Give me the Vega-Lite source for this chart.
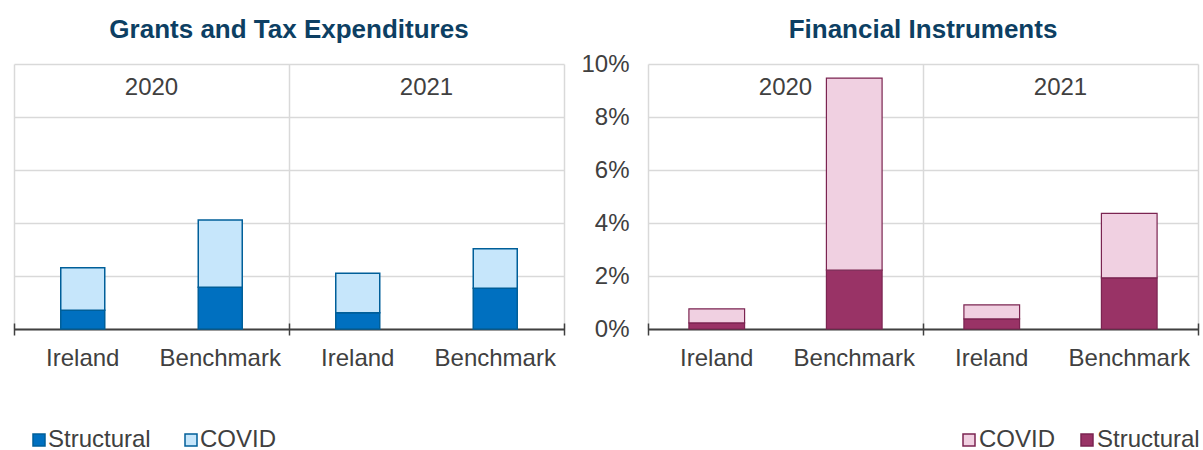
{
  "$schema": "https://vega.github.io/schema/vega-lite/v6.json",
  "padding": {"left": 13, "top": 17, "right": 0, "bottom": 0},
  "config": {
    "font": "Liberation Sans",
    "view": {"stroke": null},
    "text": {"font": "Liberation Sans"}
  },
  "datasets": {
    "gte": [
      {"slot": "2020 Ireland", "type": "Structural", "value": 0.71},
      {"slot": "2020 Ireland", "type": "COVID", "value": 1.60},
      {"slot": "2020 Benchmark", "type": "Structural", "value": 1.58},
      {"slot": "2020 Benchmark", "type": "COVID", "value": 2.53},
      {"slot": "2021 Ireland", "type": "Structural", "value": 0.61},
      {"slot": "2021 Ireland", "type": "COVID", "value": 1.49},
      {"slot": "2021 Benchmark", "type": "Structural", "value": 1.54},
      {"slot": "2021 Benchmark", "type": "COVID", "value": 1.49}
    ],
    "fi": [
      {"slot": "2020 Ireland", "type": "Structural", "value": 0.23},
      {"slot": "2020 Ireland", "type": "COVID", "value": 0.53},
      {"slot": "2020 Benchmark", "type": "Structural", "value": 2.22},
      {"slot": "2020 Benchmark", "type": "COVID", "value": 7.25},
      {"slot": "2021 Ireland", "type": "Structural", "value": 0.38},
      {"slot": "2021 Ireland", "type": "COVID", "value": 0.53},
      {"slot": "2021 Benchmark", "type": "Structural", "value": 1.93},
      {"slot": "2021 Benchmark", "type": "COVID", "value": 2.43}
    ],
    "years": [
      {"year": 2020, "label": "2020"},
      {"year": 2021, "label": "2021"}
    ]
  },
  "spacing": 15,
  "hconcat": [
    {
      "title": {"text": "Grants and Tax Expenditures", "fontSize": 26, "fontWeight": "bold", "color": "#0D3F63", "anchor": "middle", "baseline": "alphabetic", "offset": 0},
      "width": 550,
      "height": 265,
      "layer": [
        {
          "data": {"name": "gte"},
          "mark": {"type": "bar", "width": {"band": 0.32}, "stroke": "#005F99", "strokeWidth": 1.5},
          "encoding": {
            "x": {"field": "slot", "type": "nominal", "sort": null,
              "scale": {"domain": ["2020 Ireland", "2020 Benchmark", "2021 Ireland", "2021 Benchmark"], "paddingInner": 0, "paddingOuter": 0},
              "axis": {"orient": "bottom", "title": null, "labelExpr": "split(datum.value, ' ')[1]", "ticks": false, "domain": true, "domainColor": "#404040", "domainWidth": 2, "labelAngle": 0, "labelFontSize": 24, "labelColor": "#404040", "labelPadding": 17, "grid": false}},
            "y": {"field": "value", "type": "quantitative", "stack": "zero",
              "scale": {"domain": [0, 10], "nice": false},
              "axis": {"values": [0, 2, 4, 6, 8, 10], "labels": false, "ticks": false, "tickSize": 0, "domain": false, "grid": true, "gridColor": "#d9d9d9", "gridWidth": 1.5, "title": null}},
            "color": {"field": "type", "type": "nominal",
              "scale": {"domain": ["Structural", "COVID"], "range": ["#0070C0", "#C6E6FB"]},
              "legend": {"orient": "none", "legendX": 13, "legendY": 364, "direction": "horizontal", "title": null, "symbolType": "square", "symbolSize": 144, "symbolStrokeColor": "#005F99", "symbolStrokeWidth": 1.5, "labelFontSize": 24, "labelColor": "#404040", "labelOffset": -3, "columnPadding": 28}},
            "order": {"field": "type", "sort": "descending"}
          }
        },
        {
          "data": {"name": "years"},
          "mark": {"type": "text", "fontSize": 24, "color": "#404040", "baseline": "middle", "align": "center"},
          "encoding": {
            "x": {"field": "year", "type": "quantitative",
              "scale": {"domain": [2019.5, 2021.5], "nice": false, "zero": false},
              "axis": {"orient": "bottom", "values": [2019.5, 2020.5, 2021.5], "labels": false, "domain": false, "ticks": true, "tickColor": "#404040", "tickSize": 12, "offset": -6, "tickWidth": 1.5, "grid": true, "gridColor": "#d9d9d9", "gridWidth": 1.5, "title": null}},
            "y": {"datum": 9.1, "type": "quantitative"},
            "text": {"field": "label"}
          }
        }
      ],
      "resolve": {"scale": {"x": "independent"}, "axis": {"x": "independent"}}
    },
    {
      "title": {"text": "Financial Instruments", "fontSize": 26, "fontWeight": "bold", "color": "#0D3F63", "anchor": "middle", "baseline": "alphabetic", "offset": -12},
      "width": 550,
      "height": 265,
      "layer": [
        {
          "data": {"name": "fi"},
          "mark": {"type": "bar", "width": {"band": 0.405}, "stroke": "#7B2451", "strokeWidth": 1.2},
          "encoding": {
            "x": {"field": "slot", "type": "nominal", "sort": null,
              "scale": {"domain": ["2020 Ireland", "2020 Benchmark", "2021 Ireland", "2021 Benchmark"], "paddingInner": 0, "paddingOuter": 0},
              "axis": {"orient": "bottom", "title": null, "labelExpr": "split(datum.value, ' ')[1]", "ticks": false, "domain": true, "domainColor": "#404040", "domainWidth": 2, "labelAngle": 0, "labelFontSize": 24, "labelColor": "#404040", "labelPadding": 17, "grid": false}},
            "y": {"field": "value", "type": "quantitative", "stack": "zero",
              "scale": {"domain": [0, 10], "nice": false},
              "axis": {"values": [0, 2, 4, 6, 8, 10], "labelExpr": "datum.value + '%'", "labelFontSize": 24, "labelColor": "#404040", "labelPadding": 19, "ticks": false, "tickSize": 0, "domain": false, "grid": true, "gridColor": "#d9d9d9", "gridWidth": 1.5, "title": null}},
            "color": {"field": "type", "type": "nominal",
              "scale": {"domain": ["COVID", "Structural"], "range": ["#F0D0E1", "#993366"]},
              "legend": {"orient": "none", "legendX": 309, "legendY": 364, "direction": "horizontal", "title": null, "symbolType": "square", "symbolSize": 144, "symbolStrokeColor": "#7B2451", "symbolStrokeWidth": 1.5, "labelFontSize": 24, "labelColor": "#404040", "labelOffset": -2, "columnPadding": 19}},
            "order": {"field": "type", "sort": "descending"}
          }
        },
        {
          "data": {"name": "years"},
          "mark": {"type": "text", "fontSize": 24, "color": "#404040", "baseline": "middle", "align": "center"},
          "encoding": {
            "x": {"field": "year", "type": "quantitative",
              "scale": {"domain": [2019.5, 2021.5], "nice": false, "zero": false},
              "axis": {"orient": "bottom", "values": [2019.5, 2020.5, 2021.5], "labels": false, "domain": false, "ticks": true, "tickColor": "#404040", "tickSize": 12, "offset": -6, "tickWidth": 1.5, "grid": true, "gridColor": "#d9d9d9", "gridWidth": 1.5, "title": null}},
            "y": {"datum": 9.1, "type": "quantitative"},
            "text": {"field": "label"}
          }
        }
      ],
      "resolve": {"scale": {"x": "independent"}, "axis": {"x": "independent"}}
    }
  ],
  "resolve": {"scale": {"color": "independent"}, "legend": {"color": "independent"}}
}
